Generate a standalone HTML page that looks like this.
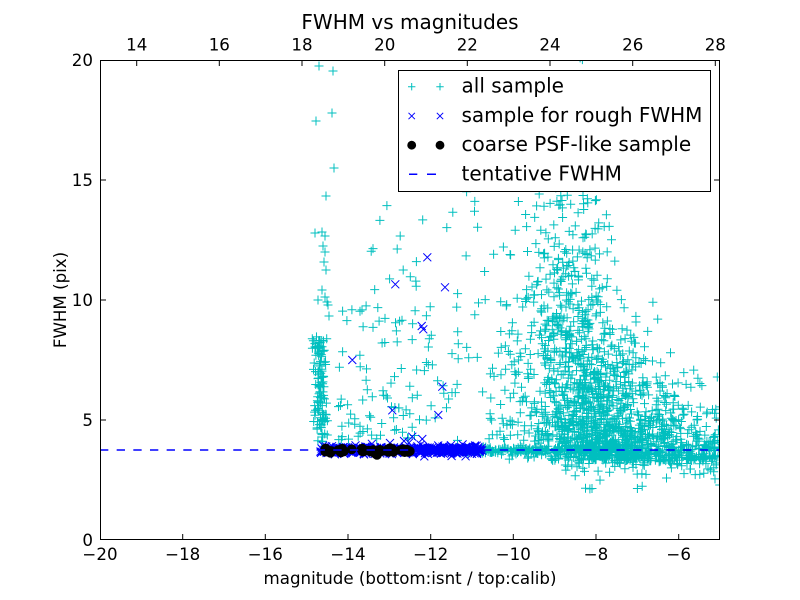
<!DOCTYPE html>
<html>
<head>
<meta charset="utf-8">
<style>
  html, body { margin: 0; padding: 0; background: #ffffff; }
  svg { display: block; }
  text { font-family: "DejaVu Sans", "Liberation Sans", sans-serif; fill: #000; }
</style>
</head>
<body>
<svg id="chart" width="800" height="600" viewBox="0 0 800 600" xmlns="http://www.w3.org/2000/svg">
  <rect x="0" y="0" width="800" height="600" fill="#ffffff"/>
  <defs>
    <clipPath id="plotclip"><rect x="100" y="60" width="620" height="480"/></clipPath>
  </defs>
  <g clip-path="url(#plotclip)">
    <path id="cyan" fill="none" stroke="#00bfbf" stroke-width="1" d=""/>
    <path id="blue" fill="none" stroke="#0000ff" stroke-width="1" d=""/>
    <g id="dots" fill="#000000"></g>
    <line x1="100" y1="450" x2="720" y2="450" stroke="#0000ff" stroke-width="1.5" stroke-dasharray="8.33 8.33"/>
  </g>

  <rect x="100.5" y="60.5" width="619" height="479" fill="none" stroke="#000" stroke-width="1"/>

  <g stroke="#000" stroke-width="1">
    <line x1="182.7" y1="539.5" x2="182.7" y2="534"/>
    <line x1="265.3" y1="539.5" x2="265.3" y2="534"/>
    <line x1="348" y1="539.5" x2="348" y2="534"/>
    <line x1="430.7" y1="539.5" x2="430.7" y2="534"/>
    <line x1="513.3" y1="539.5" x2="513.3" y2="534"/>
    <line x1="596" y1="539.5" x2="596" y2="534"/>
    <line x1="678.7" y1="539.5" x2="678.7" y2="534"/>
    <line x1="136.7" y1="60.5" x2="136.7" y2="66"/>
    <line x1="219.3" y1="60.5" x2="219.3" y2="66"/>
    <line x1="302" y1="60.5" x2="302" y2="66"/>
    <line x1="384.7" y1="60.5" x2="384.7" y2="66"/>
    <line x1="467.3" y1="60.5" x2="467.3" y2="66"/>
    <line x1="550" y1="60.5" x2="550" y2="66"/>
    <line x1="632.7" y1="60.5" x2="632.7" y2="66"/>
    <line x1="715.3" y1="60.5" x2="715.3" y2="66"/>
    <line x1="100.5" y1="420" x2="106" y2="420"/>
    <line x1="100.5" y1="300" x2="106" y2="300"/>
    <line x1="100.5" y1="180" x2="106" y2="180"/>
    <line x1="719.5" y1="420" x2="714" y2="420"/>
    <line x1="719.5" y1="300" x2="714" y2="300"/>
    <line x1="719.5" y1="180" x2="714" y2="180"/>
  </g>

  <g font-size="16.67" text-anchor="middle">
    <text x="100" y="560">−20</text>
    <text x="182.7" y="560">−18</text>
    <text x="265.3" y="560">−16</text>
    <text x="348" y="560">−14</text>
    <text x="430.7" y="560">−12</text>
    <text x="513.3" y="560">−10</text>
    <text x="596" y="560">−8</text>
    <text x="678.7" y="560">−6</text>
  </g>
  <g font-size="16.67" text-anchor="middle">
    <text x="136.7" y="50.5">14</text>
    <text x="219.3" y="50.5">16</text>
    <text x="302" y="50.5">18</text>
    <text x="384.7" y="50.5">20</text>
    <text x="467.3" y="50.5">22</text>
    <text x="550" y="50.5">24</text>
    <text x="632.7" y="50.5">26</text>
    <text x="715.3" y="50.5">28</text>
  </g>
  <g font-size="16.67" text-anchor="end">
    <text x="93" y="546">0</text>
    <text x="93" y="426">5</text>
    <text x="93" y="306">10</text>
    <text x="93" y="186">15</text>
    <text x="93" y="66">20</text>
  </g>

  <text x="410" y="29" font-size="20" text-anchor="middle">FWHM vs magnitudes</text>
  <text x="410" y="584" font-size="16.67" text-anchor="middle">magnitude (bottom:isnt / top:calib)</text>
  <text transform="translate(66,300) rotate(-90)" font-size="16.67" text-anchor="middle">FWHM (pix)</text>

  <rect x="398.5" y="70.5" width="312" height="121" fill="#ffffff" stroke="#000" stroke-width="1"/>
  <g stroke="#00bfbf" stroke-width="1">
    <path d="M408 86.7h7.4M411.7 83v7.4M436.3 86.7h7.4M440 83v7.4"/>
  </g>
  <g stroke="#0000ff" stroke-width="1">
    <path d="M408.5 112.8l6.4 6.4M414.9 112.8l-6.4 6.4M436.8 112.8l6.4 6.4M443.2 112.8l-6.4 6.4"/>
    <path d="M409 174.3h8.3M427 174.3h9" stroke-width="1.5"/>
  </g>
  <circle cx="411.7" cy="145.2" r="4.4" fill="#000"/>
  <circle cx="440" cy="145.2" r="4.4" fill="#000"/>
  <g font-size="20">
    <text x="461.5" y="92.7">all sample</text>
    <text x="461.5" y="122">sample for rough FWHM</text>
    <text x="461.5" y="151.2">coarse PSF-like sample</text>
    <text x="461.5" y="180.3">tentative FWHM</text>
  </g>
</svg>
<script>
(function(){
  var s = 987654321;
  function R(){ s|=0; s=s+0x6D2B79F5|0; var t=Math.imul(s^s>>>15,1|s); t=t+Math.imul(t^t>>>7,61|t)^t; return ((t^t>>>14)>>>0)/4294967296; }
  function N(){ var u=1-R(), v=R(); return Math.sqrt(-2*Math.log(u))*Math.cos(2*Math.PI*v); }
  function E(m){ return -Math.log(1-R())*m; }
  var cy=[], bl=[];
  function plus(x,y){ x=+x.toFixed(1); y=+y.toFixed(1); cy.push('M'+(x-4.5)+' '+y+'h9M'+x+' '+(y-4.5)+'v9'); }
  function cross(x,y){ x=+x.toFixed(1); y=+y.toFixed(1); bl.push('M'+(x-4)+' '+(y-4)+'l8 8M'+(x+4)+' '+(y-4)+'l-8 8'); }
  var i,x,y,f;

  var up=[[319,66],[333,71],[316,121],[332,113],[334,168],[326,196],[315,233],[322,232],[325,236],[323,246],[325,252],[324,262],[326,270],[325,297],[327,302],[328,305],[322,290],[329,316],[318,300]];
  for(i=0;i<up.length;i++) plus(up[i][0],up[i][1]);
  for(i=0;i<110;i++){ x=321+N()*3.5; y=335+Math.pow(R(),0.8)*108; plus(x,y); }
  for(i=0;i<14;i++){ x=312+R()*9; y=335+R()*40; plus(x,y); }

  for(i=0;i<95;i++){ x=338+R()*100; y=440-Math.pow(R(),1.3)*135; plus(x,y); }
  for(i=0;i<14;i++){ x=365+R()*70; y=200+R()*90; plus(x,y); }
  for(i=0;i<45;i++){ x=440+R()*80; y=190+R()*250; plus(x,y); }

  // Main cloud
  for(i=0;i<1500;i++){
    f=3.3+E(3.0);
    var xc = f<10 ? 610-(f-4)*7 : 568;
    var sg = Math.max(22, 46-(f-4)*3);
    x=xc+N()*sg; y=540-f*24;
    plus(x,y);
  }
  for(i=0;i<90;i++){ x=565+R()*155; f=3.6-E(0.45); if(f<2.1) f=2.1+R()*0.3; plus(x,540-f*24); }
  for(i=0;i<420;i++){ x=440+R()*280; var sp=1.5+Math.max(0,x-540)*0.05; y=450+N()*sp; plus(x,y); }
  for(i=0;i<40;i++){ x=660+R()*60; y=370+R()*110; plus(x,y); }

  for(i=0;i<480;i++){ x=320+R()*162; y=450+N()*2.0; cross(x,y); }
  var bx=[[427.3,257.3],[395.3,284.3],[445,287.3],[421.7,326],[423.3,329.3],[352.3,360],[442.3,386.7],[392.3,410.3],[438.3,415],[412.3,436.7],[422.3,439],[390,443],[409,442.7],[404,441]];
  for(i=0;i<bx.length;i++) cross(bx[i][0],bx[i][1]);

  var ns='http://www.w3.org/2000/svg', g=document.getElementById('dots');
  function dot(x,y){ var c=document.createElementNS(ns,'circle'); c.setAttribute('cx',x.toFixed(1)); c.setAttribute('cy',y.toFixed(1)); c.setAttribute('r','4.8'); g.appendChild(c); }
  for(i=0;i<50;i++){ x=324+R()*90; if(x>356&&x<360) x+=5; y=450.5+N()*1.1; dot(x,y); }
  dot(377,455); dot(375,453.5); dot(329,452); dot(341,452.5);

  document.getElementById('cyan').setAttribute('d',cy.join(''));
  document.getElementById('blue').setAttribute('d',bl.join(''));
})();
</script>
</body>
</html>
